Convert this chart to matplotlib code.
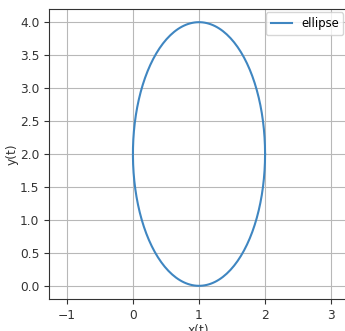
import numpy as np
import matplotlib
matplotlib.use("Agg")
import matplotlib.pyplot as plt

# Ellipse parameters.
center_x = 1.0
center_y = 2.0
semi_x = 1.0
semi_y = 2.0
n_points = 200

x_ticks = [-1, 0, 1, 2, 3]
y_ticks = [0.0, 0.5, 1.0, 1.5, 2.0, 2.5, 3.0, 3.5, 4.0]

t = np.linspace(0, 2 * np.pi, n_points)
x = center_x + semi_x * np.cos(t)
y = center_y + semi_y * np.sin(t)

plt.rcParams["font.size"] = 8.8

fig = plt.figure(figsize=(3.45, 3.31), dpi=100)
ax = fig.add_axes([49 / 345, 32 / 331, 298 / 345, 290 / 331])
ax.plot(x, y, color="#3f86c1", linewidth=1.5, label="ellipse")
ax.set_xlim(-1.27, 3.24)
ax.set_ylim(-0.2, 4.2)
ax.set_xticks(x_ticks)
ax.set_yticks(y_ticks)
ax.grid(True, color="#b8b8b8", linewidth=0.8)
ax.tick_params(colors="#333333", labelcolor="#333333", length=3.5, width=0.8)
ax.set_xlabel("x(t)", color="#333333", labelpad=1.5)
ax.set_ylabel("y(t)", color="#333333", labelpad=1)
ax.legend(loc="upper right", fontsize=8.4, handlelength=1.8,
          borderaxespad=0.3)
for s in ax.spines.values():
    s.set_color("#333333")
    s.set_linewidth(0.8)

fig.savefig("out.png", dpi=100)
